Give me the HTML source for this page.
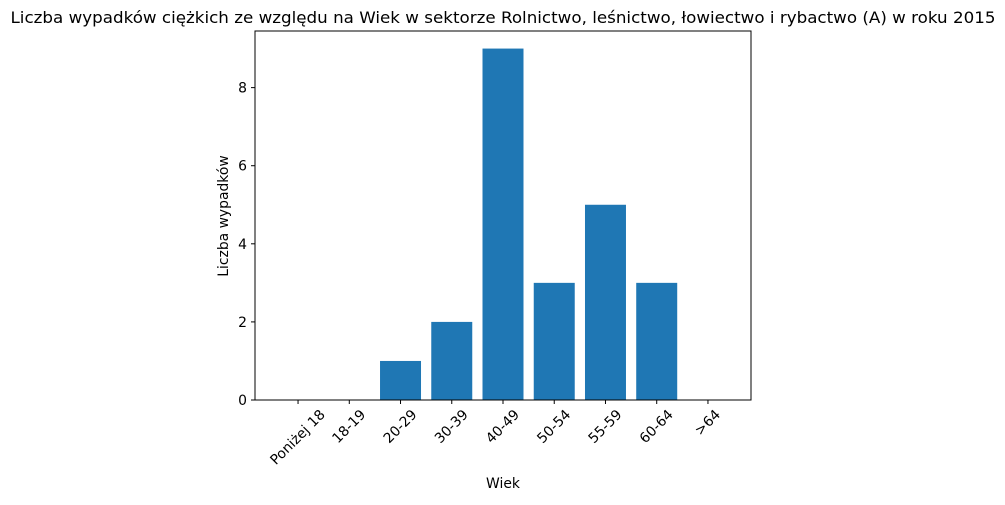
<!DOCTYPE html>
<html><head><meta charset="utf-8"><style>
body{margin:0;background:#fff;}
svg text{font-family:"DejaVu Sans","Liberation Sans",sans-serif;fill:#000;}
</style></head><body>
<svg id="chart" width="1005" height="500" xmlns="http://www.w3.org/2000/svg">
<text x="503" y="23" text-anchor="middle" font-size="16" textLength="985" lengthAdjust="spacingAndGlyphs">Liczba wypadków ciężkich ze względu na Wiek w sektorze Rolnictwo, leśnictwo, łowiectwo i rybactwo (A) w roku 2015</text>
<g id="bars"></g>
<g id="xticks"></g>
<g id="yticks"></g>
<rect x="255" y="31" width="496" height="369" fill="none" stroke="#000" stroke-width="1"/>
<text x="503" y="488" text-anchor="middle" font-size="13.9">Wiek</text>
<text transform="translate(228,216) rotate(-90)" text-anchor="middle" font-size="13.9">Liczba wypadków</text>
</svg>
<script>
const categories=["Poniżej 18","18-19","20-29","30-39","40-49","50-54","55-59","60-64",">64"];
const values=[0,0,1,2,9,3,5,3,0];
const yTicks=[0,2,4,6,8];
const L=255,R=751,T=31,B=400;
const xmin=-0.84,xmax=8.84,ymin=0,ymax=9.45;
const xs=v=>L+(v-xmin)/(xmax-xmin)*(R-L);
const ys=v=>B-(v-ymin)/(ymax-ymin)*(B-T);
const NS="http://www.w3.org/2000/svg";
const bars=document.getElementById('bars'),xt=document.getElementById('xticks'),yt=document.getElementById('yticks');
categories.forEach((c,i)=>{
  const r=document.createElementNS(NS,'rect');
  const x0=xs(i-0.4),x1=xs(i+0.4);
  r.setAttribute('x',x0);r.setAttribute('width',x1-x0);
  r.setAttribute('y',ys(values[i]));r.setAttribute('height',B-ys(values[i]));
  r.setAttribute('fill','#1f77b4');
  
  
  bars.appendChild(r);
  const cx=xs(i);
  const tk=document.createElementNS(NS,'line');
  tk.setAttribute('x1',cx);tk.setAttribute('x2',cx);tk.setAttribute('y1',B);tk.setAttribute('y2',B+4);tk.setAttribute('stroke','#000');
  
  
  xt.appendChild(tk);
  const t=document.createElementNS(NS,'text');
  t.setAttribute('font-size','13.9');t.setAttribute('text-anchor','middle');
  t.setAttribute('dominant-baseline','central');
  t.textContent=c;
  
  
  xt.appendChild(t);
  const w=t.getComputedTextLength(),h=13;
  const half=(w+h)*0.7071/2;
  t.setAttribute('transform','translate('+cx+','+(B+8+half)+') rotate(-45)');
});
yTicks.forEach(v=>{
  const y=ys(v);
  const tk=document.createElementNS(NS,'line');
  tk.setAttribute('x1',L-4);tk.setAttribute('x2',L);tk.setAttribute('y1',y);tk.setAttribute('y2',y);tk.setAttribute('stroke','#000');
  
  
  yt.appendChild(tk);
  const t=document.createElementNS(NS,'text');
  t.setAttribute('x',L-8);t.setAttribute('y',y+5);t.setAttribute('font-size','13.9');t.setAttribute('text-anchor','end');
  t.textContent=v;
  
  
  yt.appendChild(t);
});
</script>
</body></html>
